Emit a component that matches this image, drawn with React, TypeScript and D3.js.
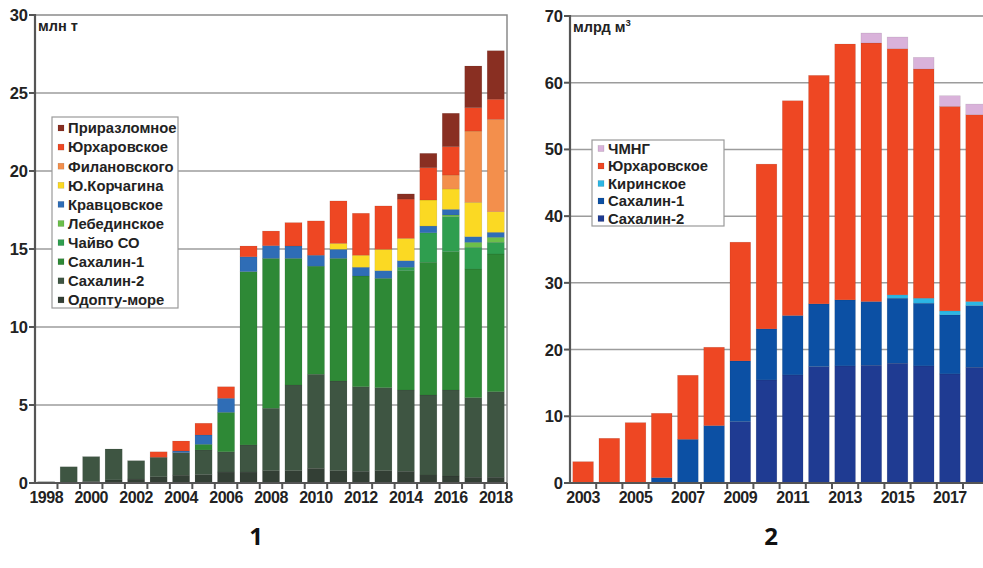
import * as d3 from "d3";
import { useEffect, useRef } from "react";

// ---- panel 1: oil, млн т ----
const years1 = d3.range(1998, 2019).map(String);
const odoptu = [0.08, 0.05, 0.1, 0.2, 0.25, 0.4, 0.5, 0.55, 0.7, 0.7, 0.79, 0.79, 0.94, 0.79, 0.75, 0.79, 0.75, 0.51, 0.45, 0.37, 0.37];
const sakh2oil = [0, 0.99, 1.59, 1.98, 1.18, 1.25, 1.45, 1.57, 1.3, 1.74, 4.0, 5.49, 6.03, 5.75, 5.42, 5.32, 5.21, 5.13, 5.51, 5.1, 5.48];
const sakh1oil = [0, 0, 0, 0, 0, 0, 0, 0.36, 2.53, 11.11, 9.61, 8.12, 6.93, 7.86, 7.1, 7.01, 7.65, 8.51, 8.87, 8.25, 8.83];
const chayvo = [0, 0, 0, 0, 0, 0, 0, 0, 0, 0, 0, 0, 0, 0, 0, 0, 0.22, 1.89, 2.25, 1.39, 0.75];
const lebed = [0, 0, 0, 0, 0, 0, 0, 0, 0, 0, 0, 0, 0, 0, 0, 0, 0, 0, 0.1, 0.32, 0.32];
const kravts = [0, 0, 0, 0, 0, 0, 0.1, 0.6, 0.9, 0.95, 0.81, 0.79, 0.7, 0.58, 0.56, 0.49, 0.42, 0.43, 0.36, 0.36, 0.32];
const korch = [0, 0, 0, 0, 0, 0, 0, 0, 0, 0, 0, 0, 0, 0.38, 0.77, 1.37, 1.43, 1.67, 1.31, 2.2, 1.32];
const filan = [0, 0, 0, 0, 0, 0, 0, 0, 0, 0, 0, 0, 0, 0, 0, 0, 0, 0, 0.89, 4.57, 5.92];
const yurkhOil = [0, 0, 0, 0, 0, 0.35, 0.64, 0.75, 0.74, 0.69, 0.94, 1.5, 2.2, 2.72, 2.69, 2.78, 2.52, 2.07, 1.82, 1.5, 1.29];
const prirazl = [0, 0, 0, 0, 0, 0, 0, 0, 0, 0, 0, 0, 0, 0, 0, 0, 0.33, 0.92, 2.14, 2.67, 3.11];
const ticks1 = [0, 5, 10, 15, 20, 25, 30];

// bottom -> top
const series1 = [
  { name: "Одопту-море", values: odoptu, color: "#333f35" },
  { name: "Сахалин-2", values: sakh2oil, color: "#3e5542" },
  { name: "Сахалин-1", values: sakh1oil, color: "#2e8936" },
  { name: "Чайво СО", values: chayvo, color: "#2f9e4f" },
  { name: "Лебединское", values: lebed, color: "#6cbf4a" },
  { name: "Кравцовское", values: kravts, color: "#2f6db6" },
  { name: "Ю.Корчагина", values: korch, color: "#fbd923" },
  { name: "Филановского", values: filan, color: "#f38f4c" },
  { name: "Юрхаровское", values: yurkhOil, color: "#ee4723" },
  { name: "Приразломное", values: prirazl, color: "#892f22" },
];

// ---- panel 2: gas, млрд м3 ----
const years2 = d3.range(2003, 2019).map(String);
const sakh2gas = [0, 0, 0, 0, 0, 0, 9.2, 15.45, 16.2, 17.45, 17.55, 17.65, 17.95, 17.55, 16.35, 17.35];
const sakh1gas = [0, 0, 0, 0.8, 6.55, 8.6, 9.1, 7.65, 8.9, 9.4, 9.9, 9.55, 9.75, 9.4, 8.85, 9.25];
const kirin = [0, 0, 0, 0, 0, 0, 0, 0, 0, 0, 0, 0, 0.5, 0.75, 0.6, 0.6];
const yurkhGas = [3.2, 6.7, 9.05, 9.65, 9.6, 11.75, 17.8, 24.7, 32.2, 34.25, 38.35, 38.75, 36.9, 34.35, 30.65, 28.0];
const chmng = [0, 0, 0, 0, 0, 0, 0, 0, 0, 0, 0, 1.5, 1.75, 1.75, 1.6, 1.6];
const ticks2 = [0, 10, 20, 30, 40, 50, 60, 70];

const series2 = [
  { name: "Сахалин-2", values: sakh2gas, color: "#1f3b92" },
  { name: "Сахалин-1", values: sakh1gas, color: "#0c50a4" },
  { name: "Киринское", values: kirin, color: "#2cb6e4" },
  { name: "Юрхаровское", values: yurkhGas, color: "#ee4723" },
  { name: "ЧМНГ", values: chmng, color: "#d9b2da" },
];

const FONT = "'Liberation Sans', Arial, sans-serif";

function drawPanel(svg: any, cfg: any) {
  const { years, series, ticks, yMax, left, right, top, bottom, pad, unit, legend } = cfg;
  const g = svg.append("g");

  const x = d3.scaleBand().domain(years).range([left, right]).paddingInner(pad).paddingOuter(pad / 2);
  const y = d3.scaleLinear().domain([0, yMax]).range([bottom, top]);

  // grid + frame
  g.selectAll(".grid")
    .data(ticks.filter((t: number) => t > 0 && t < yMax))
    .enter()
    .append("line")
    .attr("x1", left)
    .attr("x2", right)
    .attr("y1", (d: number) => y(d))
    .attr("y2", (d: number) => y(d))
    .attr("stroke", "#9c9c9c")
    .attr("stroke-width", 1.5);
  g.append("path")
    .attr("d", `M${left},${y(yMax)}H${right}V${bottom}`)
    .attr("fill", "none")
    .attr("stroke", "#8a8a8a")
    .attr("stroke-width", 1.5);

  // stacked bars
  const rows = years.map((yr: string, i: number) => {
    const r: any = { year: yr };
    series.forEach((s: any) => (r[s.name] = s.values[i]));
    return r;
  });
  const stack = d3.stack().keys(series.map((s: any) => s.name))(rows);
  stack.forEach((layer: any, li: number) => {
    g.append("g")
      .selectAll("rect")
      .data(layer.filter((d: any) => d[1] - d[0] > 0))
      .enter()
      .append("rect")
      .attr("x", (d: any) => x(d.data.year))
      .attr("width", x.bandwidth())
      .attr("y", (d: any) => y(d[1]))
      .attr("height", (d: any) => y(d[0]) - y(d[1]))
      .attr("fill", series[li].color)
      .attr("stroke", "rgba(0,0,0,0.13)")
      .attr("stroke-width", 0.6);
  });

  // axes
  const half = (x.step() - x.bandwidth()) / 2;
  g.append("line")
    .attr("x1", left).attr("x2", left)
    .attr("y1", y(yMax) - 1).attr("y2", bottom + 1)
    .attr("stroke", "#555").attr("stroke-width", 2.2);
  g.append("line")
    .attr("x1", left - 1).attr("x2", right)
    .attr("y1", bottom).attr("y2", bottom)
    .attr("stroke", "#555").attr("stroke-width", 2.2);
  g.selectAll(".yt")
    .data(ticks)
    .enter()
    .append("line")
    .attr("x1", left - 6).attr("x2", left)
    .attr("y1", (d: number) => y(d)).attr("y2", (d: number) => y(d))
    .attr("stroke", "#555").attr("stroke-width", 2);
  g.selectAll(".ytl")
    .data(ticks)
    .enter()
    .append("text")
    .attr("x", left - 7)
    .attr("y", (d: number) => y(d))
    .attr("dy", "0.36em")
    .attr("text-anchor", "end")
    .style("font", `bold 16.5px ${FONT}`)
    .style("fill", "#222")
    .text((d: number) => d);
  g.selectAll(".xt")
    .data(years.slice(1))
    .enter()
    .append("line")
    .attr("x1", (d: string) => (x(d) as number) - half)
    .attr("x2", (d: string) => (x(d) as number) - half)
    .attr("y1", bottom).attr("y2", bottom + 6)
    .attr("stroke", "#555").attr("stroke-width", 2);
  g.append("line")
    .attr("x1", right).attr("x2", right)
    .attr("y1", bottom).attr("y2", bottom + 6)
    .attr("stroke", "#555").attr("stroke-width", 2);
  g.selectAll(".xtl")
    .data(years.filter((_: string, i: number) => i % 2 === 0))
    .enter()
    .append("text")
    .attr("x", (d: string) => (x(d) as number) + x.bandwidth() / 2)
    .attr("y", bottom + 20)
    .attr("text-anchor", "middle")
    .style("font", `bold 16px ${FONT}`)
    .style("letter-spacing", "-0.5px")
    .style("fill", "#222")
    .text((d: string) => d);

  // unit label
  const ut = g.append("text")
    .attr("x", left + 3)
    .attr("y", top + 16)
    .style("font", `bold 14.5px ${FONT}`)
    .style("fill", "#222")
    .text(unit.text);
  if (unit.sup) ut.append("tspan").attr("dy", -6).style("font-size", "9.5px").text(unit.sup);

  // legend (top entry = top of stack)
  const items = series.slice().reverse();
  g.append("rect")
    .attr("x", legend.x).attr("y", legend.y)
    .attr("width", legend.w).attr("height", legend.h)
    .attr("fill", "#fff").attr("stroke", "#9a9a9a").attr("stroke-width", 1.2);
  const li = g.selectAll(".leg")
    .data(items)
    .enter()
    .append("g")
    .attr("transform", (_: any, i: number) => `translate(${legend.x},${legend.first + i * legend.step})`);
  li.append("rect")
    .attr("x", 6).attr("y", -3).attr("width", 6).attr("height", 6)
    .attr("fill", (d: any) => d.color)
    .attr("stroke", "rgba(0,0,0,0.2)").attr("stroke-width", 0.5);
  li.append("text")
    .attr("x", 16)
    .attr("dy", "0.36em")
    .style("font", `bold 14.8px ${FONT}`)
    .style("fill", "#222")
    .text((d: any) => d.name);
}

const App = () => {
  const svgRef = useRef<SVGSVGElement>(null);

  useEffect(() => {
    const svg = d3.select(svgRef.current);
    svg.selectAll("*").remove();

    drawPanel(svg, {
      years: years1, series: series1, ticks: ticks1, yMax: 30,
      left: 35, right: 507, top: 15, bottom: 483, pad: 0.24,
      unit: { text: "млн т" },
      legend: { x: 52, y: 117, w: 126, h: 191, first: 128, step: 19.1 },
    });
    drawPanel(svg, {
      years: years2, series: series2, ticks: ticks2, yMax: 70,
      left: 570, right: 570 + 16 * 26.2, top: 16, bottom: 483, pad: 0.21,
      unit: { text: "млрд м", sup: "3" },
      legend: { x: 592, y: 140, w: 132, h: 86, first: 148.5, step: 17.5 },
    });

    [{ t: "1", x: 256 }, { t: "2", x: 771 }].forEach((d) => {
      svg.append("text")
        .attr("x", d.x).attr("y", 545)
        .attr("text-anchor", "middle")
        .style("font", "bold 24px 'Open Sans', 'DejaVu Sans', sans-serif")
        .style("fill", "#111")
        .text(d.t);
    });
  }, []);

  return (
    <svg
      ref={svgRef}
      width={983}
      height={568}
      style={{ position: "absolute", left: 0, top: 0, background: "#fff" }}
    ></svg>
  );
};

export default App;
